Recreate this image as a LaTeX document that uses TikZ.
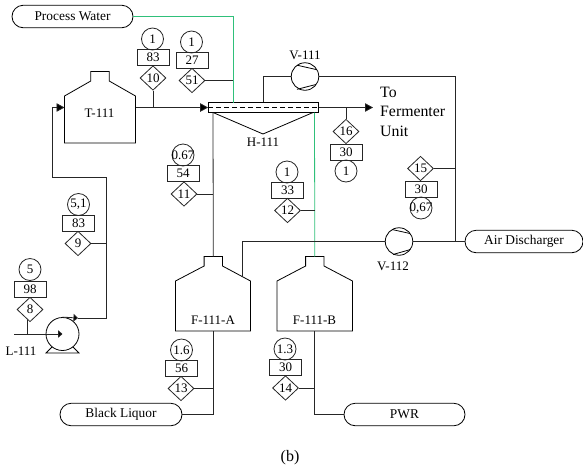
\documentclass[tikz,border=0pt]{standalone}
\usepackage{fontspec}
\setmainfont{Liberation Serif}
\usetikzlibrary{shapes.geometric,shapes.misc,arrows.meta}
\definecolor{steam}{HTML}{2FC07A}
\newcommand{\ov}[1]{\makebox[0pt]{#1}}
\tikzset{
  x=1pt,y=-1pt,
  inst/.style={draw=black!85,line width=.8pt,inner sep=0pt,font=\fontsize{13}{14}\selectfont},
  icirc/.style={inst,circle,minimum size=22pt},
  irect/.style={inst,rectangle,minimum width=32pt,minimum height=16pt},
  idiam/.style={inst,diamond,minimum width=26pt,minimum height=24.5pt},
  term/.style={draw=black,line width=.8pt,rounded rectangle,minimum height=22.5pt,inner sep=0pt,font=\fontsize{13.4}{14}\selectfont},
  lab/.style={inner sep=0pt,font=\fontsize{13}{14}\selectfont},
  pipe/.style={draw=black!85,line width=.8pt},
  green pipe/.style={draw=steam,line width=.8pt},
  equip/.style={draw=black,line width=.8pt},
  fan/.style={draw=black,line width=.8pt,circle,minimum size=27.5pt,inner sep=0pt},
  tip/.style={-{Triangle[length=8pt,width=8.5pt,fill=black]}},
  smalltip/.style={-{Triangle[length=4.5pt,width=7.5pt,fill=black]}},
}
\newcommand{\tank}[6]{% name, left, right, bottom, shoulder(y), centre
  \draw[equip] (#2,#5) -- (#2,#4) -- (#3,#4) -- (#3,#5) -- ({#6+9.2},{#5-15}) -- ({#6+9.2},{#5-24.5}) -- ({#6-9.2},{#5-24.5}) -- ({#6-9.2},{#5-15}) -- cycle;
  \coordinate (#1top) at (#6,{#5-24.5});
  \coordinate (#1bot) at (#6,#4);
}
\begin{document}
\begin{tikzpicture}
\useasboundingbox (0,0) rectangle (583,472);
% terminals
\node[term,minimum width=121pt] (pw) at (72.5,16.5) {Process Water};
\node[term,minimum width=118pt] (air) at (524,241.5) {Air Discharger};
\node[term,minimum width=122pt] (bl) at (121,414.5) {Black Liquor};
\node[term,minimum width=121pt] (pwr) at (404.5,414.5) {PWR};
% tanks
\tank{t}{64.5}{135.5}{143}{96}{100}
\tank{fa}{175.5}{250.5}{331}{281}{213.3}
\tank{fb}{277}{352.5}{331}{281}{314.8}
\coordinate (tin) at (64.5,107.5);
\coordinate (tout) at (135.5,107.5);
\node[lab] (tl) at (99.5,113.5) {T-111};
\node[lab] (fal) at (213,320) {F-111-A};
\node[lab] (fbl) at (314.5,320) {F-111-B};
% heat exchanger
\node[equip,draw,rectangle,minimum width=110pt,minimum height=10pt,inner sep=0pt] (h) at (263.5,107.5) {};
\draw[equip,dash pattern=on 5pt off 3pt] (h.west) -- (h.east);
\coordinate (hl) at (213,112.5);
\coordinate (hv) at (263,134);
\coordinate (hr) at (313,112.5);
\draw[equip] (hl) -- (hv) -- (hr);
\node[lab] (hlab) at (263,142.5) {H-111};
% fans
\node[fan] (v1) at (305,76.5) {};
\draw[equip] (297,65.2) -- (316,69.5) (297,89.3) -- (316,84.5);
\node[lab] (v1l) at (305,55.5) {V-111};
\node[fan] (v2) at (399,241.5) {};
\draw[equip] (393,254.5) -- (410.5,249.5) (392,229.5) -- (410,233.5);
\node[lab] (v2l) at (393,266.5) {V-112};
% pump
\node[equip,draw,circle,minimum size=33pt,inner sep=0pt] (p) at (62.5,334) {};
\draw[equip] (52,347) -- (46,353) -- (79,353) -- (73,347);
\node[lab] (pl) at (21,351.5) {L-111};
% instruments
\node[icirc] (c10) at (152.5,39) {\ov{1}};
\node[irect] (r10) at (153,57.5) {83};
\node[idiam] (d10) at (153,78) {10};
\node[icirc] (c51) at (191.5,42) {\ov{1}};
\node[irect] (r51) at (192,60) {27};
\node[idiam] (d51) at (192,80.5) {51};
\node[icirc] (c11) at (183,155) {\ov{0.67}};
\node[irect] (r11) at (183,173.5) {54};
\node[idiam] (d11) at (184,194) {11};
\node[icirc] (c12) at (287,172) {\ov{1}};
\node[irect] (r12) at (287.5,190.5) {33};
\node[idiam] (d12) at (287.5,210.5) {12};
\node[idiam] (d16) at (346,131.5) {16};
\node[irect] (r16) at (346,152) {30};
\node[icirc] (c16) at (346,171) {\ov{1}};
\node[idiam] (d15) at (420.5,168.5) {15};
\node[irect] (r15) at (421,189.5) {30};
\node[icirc] (c15) at (421,208) {\ov{0,67}};
\node[icirc] (c9) at (78.5,204.5) {\ov{5,1}};
\node[irect] (r9) at (78.5,223.5) {83};
\node[idiam] (d9) at (78,243.5) {9};
\node[icirc] (c8) at (30,269.5) {\ov{5}};
\node[irect] (r8) at (30,289) {98};
\node[idiam] (d8) at (30,309.5) {8};
\node[icirc] (c13) at (181.5,350) {\ov{1.6}};
\node[irect] (r13) at (181.5,368.5) {56};
\node[idiam] (d13) at (181,388.5) {13};
\node[icirc] (c14) at (285,349) {\ov{1.3}};
\node[irect] (r14) at (285.5,367.5) {30};
\node[idiam] (d14) at (285.5,388) {14};
% text
\node[inner sep=0pt,anchor=west,align=left,font=\fontsize{15.8}{19.6}\selectfont] (to) at (380,111.5) {To\\Fermenter\\Unit};
\node[inner sep=0pt,font=\fontsize{16}{18}\selectfont] (b) at (290,458) {(b)};
% junction coordinates
\coordinate (gtop) at (233,16.5);
\coordinate (gbot) at (233,102.5);
\coordinate (v1in) at (263,76.5);
\coordinate (v1out) at (455.5,76.5);
\coordinate (aj) at (455.5,241.5);
\coordinate (x1) at (106.5,177.5);
\coordinate (x2) at (52.5,177.5);
\coordinate (x3) at (52.5,107.5);
\coordinate (x4) at (106.5,318);
\coordinate (ptip) at (78,318);
\coordinate (pin) at (14,334);
\coordinate (hout) at (373,107.5);
\coordinate (fa1) at (242.5,276.5);
\coordinate (fa2) at (242.5,241.5);
\coordinate (st) at (27.5,334);
\coordinate (st0) at (27.5,319.5);
\coordinate (gb1) at (314.5,112.5);
\coordinate (hb1) at (213,112.5);
% green
\draw[green pipe] (pw.east) -- (gtop) -- (gbot);
\draw[green pipe] (gb1) -- (fbtop);
% black pipes
\draw[pipe] (d10.south) -- (d10.south |- tout);
\draw[pipe] (d51.east) -- (d51.east -| gtop);
\draw[pipe,tip] (tout) -- (h.west);
\draw[pipe] (v1in |- h.north) -- (v1in) -- (v1.west);
\draw[pipe] (v1.east) -- (v1out) -- (aj);
\draw[pipe,tip] (h.east) -- (hout);
\draw[pipe] (d16.north) -- (d16.north |- h.east);
\draw[pipe] (d15.east) -- (d15.east -| aj);
\draw[pipe] (d12.east) -- (d12.east -| gb1);
\draw[pipe] (hb1) -- (fatop);
\draw[pipe] (d11.east) -- (d11.east -| fatop);
\draw[pipe] (fa1) -- (fa2) -- (v2.west);
\draw[pipe] (v2.east) -- (air.west);
\draw[pipe] (fabot) |- (bl.east);
\draw[pipe] (d13.east) -- (d13.east -| fabot);
\draw[pipe] (fbbot) |- (pwr.west);
\draw[pipe] (d14.east) -- (d14.east -| fbbot);
\draw[pipe] (d9.east) -- (d9.east -| x4);
\draw[pipe] (st0) -- (st);
% feed line
\draw[pipe,tip] (x1) -- (x2) -- (x3) -- (tin);
\draw[pipe] (x1) -- (x4) -- (ptip);
\draw[pipe,smalltip] (p.north) -- (ptip);
\draw[pipe,smalltip] (pin) -- (p.center);
\end{tikzpicture}
\end{document}
